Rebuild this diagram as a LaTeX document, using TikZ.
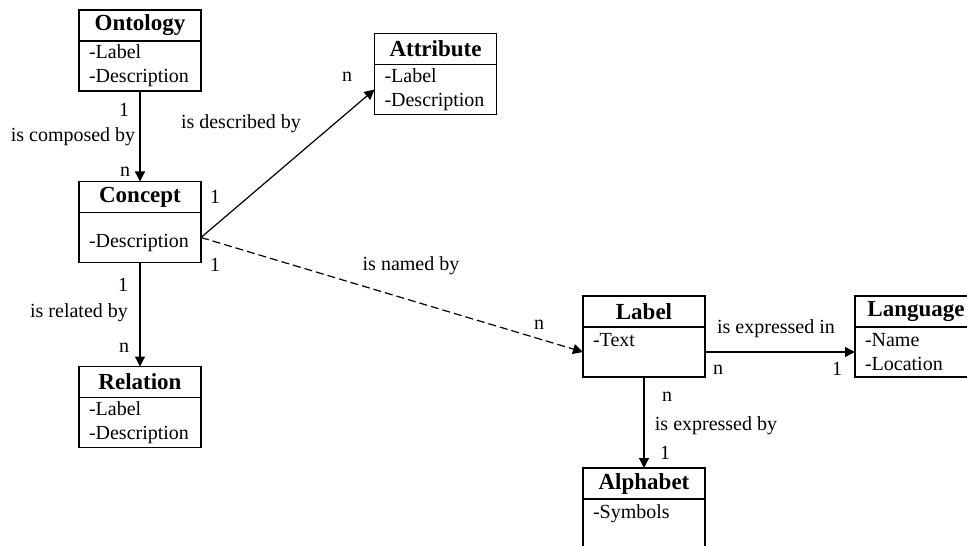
\documentclass[tikz,border=0pt]{standalone}
\usepackage{fontspec}
\setmainfont{Liberation Serif}
\usetikzlibrary{positioning,arrows.meta}
\tikzset{
  head/.style={draw, line width=0.6pt, minimum width=61pt, minimum height=15.5pt,
    inner sep=0pt, outer sep=0pt, font=\fontsize{11.5}{13}\selectfont\bfseries},
  body/.style={draw, line width=0.6pt, minimum width=61pt, minimum height=25pt,
    text width=51pt, inner xsep=5pt, inner ysep=0pt, outer sep=0pt, align=left,
    font=\fontsize{10}{12}\selectfont},
  lbl/.style={inner sep=0pt, font=\fontsize{10}{12}\selectfont},
  link/.style={line width=0.6pt, -{Triangle[length=5pt,width=5pt]}}
}
\begin{document}
\begin{tikzpicture}[x=0.5pt,y=-0.5pt]
    \useasboundingbox (0,0) rectangle (967,545);
    \clip (0,0) rectangle (967,545);
    % classes
    \node[head] (onto) at (140,25.5) {Ontology};
    \node[body,below=0pt of onto] (onto-b) {-Label\\-Description};
    \node[head] (attr) at (435.5,49) {Attribute};
    \node[body,below=0pt of attr] (attr-b) {-Label\\-Description};
    \node[head] (conc) at (140,197) {Concept};
    \node[body,below=0pt of conc] (conc-b) {\mbox{}\\-Description};
    \node[head] (rel) at (140,382) {Relation};
    \node[body,below=0pt of rel] (rel-b) {-Label\\-Description};
    \node[head] (label) at (644,311.5) {Label};
    \node[body,below=0pt of label] (label-b) {-Text\\\mbox{}};
    \node[head] (lang) at (916,311.5) {Language};
    \node[body,below=0pt of lang] (lang-b) {-Name\\-Location};
    \node[head] (alpha) at (644,483.5) {Alphabet};
    \node[body,below=0pt of alpha] (alpha-b) {-Symbols\\\mbox{}};
    % associations
    \draw[link] (onto-b) -- (conc);
    \draw[link] (conc-b) -- (rel);
    \draw[link] (conc-b.east) -- (attr-b.west);
    \draw[link,dash pattern=on 4pt off 2pt] (conc-b.east) -- (label-b.west);
    \draw[link] (label-b) -- (lang-b);
    \draw[link] (label-b) -- (alpha);
    % multiplicities and roles
    \node[lbl] (m1) at (124,110) {1};
    \node[lbl] (r1) at (73,137) {is composed by};
    \node[lbl] (m2) at (125,172) {n};
    \node[lbl] (m3) at (215,197) {1};
    \node[lbl] (r2) at (241,124) {is described by};
    \node[lbl] (m4) at (347,77) {n};
    \node[lbl] (m5) at (215,265) {1};
    \node[lbl] (r3) at (411,266) {is named by};
    \node[lbl] (m6) at (539,325) {n};
    \node[lbl] (r4) at (776,329) {is expressed in};
    \node[lbl] (m7) at (718,370) {n};
    \node[lbl] (m8) at (837,369) {1};
    \node[lbl] (m9) at (667,397) {n};
    \node[lbl] (r5) at (716,426) {is expressed by};
    \node[lbl] (m10) at (665,453) {1};
    \node[lbl] (m11) at (123,285) {1};
    \node[lbl] (r6) at (79,313) {is related by};
    \node[lbl] (m12) at (124,348) {n};
\end{tikzpicture}
\end{document}
